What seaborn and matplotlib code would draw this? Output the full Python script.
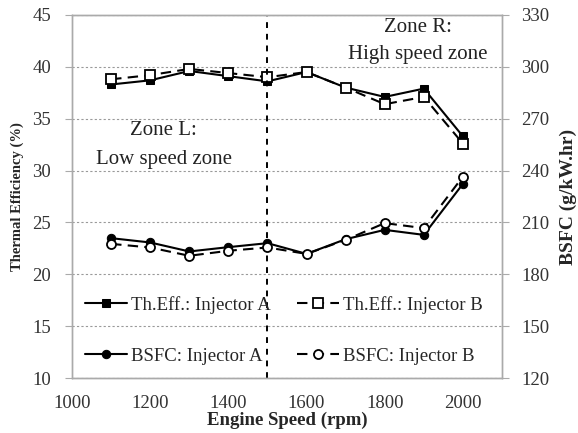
import pandas as pd
import matplotlib.pyplot as plt
import seaborn as sns

# Engine speed (rpm)
speed = [1100, 1200, 1300, 1400, 1500, 1600, 1700, 1800, 1900, 2000]

# Thermal efficiency (%)
th_eff_a = [38.3, 38.7, 39.6, 39.1, 38.6, 39.5, 38.0, 37.1, 37.9, 33.3]
th_eff_b = [38.8, 39.2, 39.8, 39.4, 39.0, 39.5, 38.0, 36.4, 37.1, 32.6]

# BSFC (g/kW.hr)
bsfc_a = [200.9, 198.4, 193.2, 195.7, 198.0, 191.8, 200.3, 205.7, 202.8, 232.3]
bsfc_b = [197.6, 195.5, 190.7, 193.6, 195.5, 191.8, 199.9, 209.6, 206.7, 236.5]

left_ticks = [10, 15, 20, 25, 30, 35, 40, 45]
right_ticks = [120, 150, 180, 210, 240, 270, 300, 330]
x_ticks = [1000, 1200, 1400, 1600, 1800, 2000]

sns.set_style("white")
plt.rcParams['font.family'] = ['Liberation Serif', 'DejaVu Serif']

fig = plt.figure(figsize=(5.78, 4.33), dpi=100)
ax = fig.add_axes([0.1246, 0.127, 0.7439, 0.8384])
ax2 = ax.twinx()

df_a = pd.DataFrame({'speed': speed, 'eff': th_eff_a})
df_b = pd.DataFrame({'speed': speed, 'eff': th_eff_b})
df_c = pd.DataFrame({'speed': speed, 'bsfc': bsfc_a})
df_d = pd.DataFrame({'speed': speed, 'bsfc': bsfc_b})

dash = (0, (5, 3))
sns.lineplot(data=df_a, x='speed', y='eff', ax=ax, color='black', lw=1.5,
             marker='s', markersize=6, markerfacecolor='black',
             markeredgecolor='black', label='Th.Eff.: Injector A', legend=False)
sns.lineplot(data=df_b, x='speed', y='eff', ax=ax, color='black', lw=1.5,
             linestyle=dash, marker='s', markersize=6.5,
             markerfacecolor='white', markeredgecolor='black', markeredgewidth=1.3,
             label='Th.Eff.: Injector B', legend=False)
sns.lineplot(data=df_c, x='speed', y='bsfc', ax=ax2, color='black', lw=1.5,
             marker='o', markersize=6, markerfacecolor='black',
             markeredgecolor='black', label='BSFC: Injector A', legend=False)
sns.lineplot(data=df_d, x='speed', y='bsfc', ax=ax2, color='black', lw=1.5,
             linestyle=dash, marker='o', markersize=6.5,
             markerfacecolor='white', markeredgecolor='black', markeredgewidth=1.3,
             label='BSFC: Injector B', legend=False)

ax.set_xlim(1000, 2100)
ax.set_ylim(10, 45)
ax2.set_ylim(120, 330)
ax.set_xticks(x_ticks)
ax.set_yticks(left_ticks)
ax2.set_yticks(right_ticks)

ax.grid(axis='y', color='#999999', linestyle=(0, (2, 2)), lw=0.8)
ax.set_axisbelow(True)

# zone divider
ax.axvline(1500, color='black', linestyle=(0, (3, 3)), lw=1.4)

for a in (ax, ax2):
    for s in a.spines.values():
        s.set_color('#aaaaaa')
        s.set_linewidth(1.0)
    a.tick_params(direction='out', length=5, width=0.8, color='#aaaaaa',
                  labelsize=13.5, labelcolor='#333333')
ax.tick_params(axis='x', pad=7)
ax.tick_params(axis='y', pad=10)
ax2.tick_params(axis='y', pad=9)

ax.set_xlabel('Engine Speed (rpm)', fontsize=13.5, fontweight='bold', labelpad=0)
ax.set_ylabel('Thermal Efficiency (%)', fontsize=10.5, fontweight='bold', labelpad=6)
ax2.set_ylabel('BSFC (g/kW.hr)', fontsize=14, fontweight='bold', labelpad=7)

txt = dict(fontsize=15, ha='center', va='center', color='#222222')
ax.text(1235, 33.9, 'Zone L:', **txt)
ax.text(1235, 31.1, 'Low speed zone', **txt)
ax.text(1885, 43.75, 'Zone R:', **txt)
ax.text(1885, 41.15, 'High speed zone', **txt)

h1, l1 = ax.get_legend_handles_labels()
h2, l2 = ax2.get_legend_handles_labels()
handles = [h1[0], h2[0], h1[1], h2[1]]
labels = [l1[0], l2[0], l1[1], l2[1]]
ax2.legend(handles, labels, ncol=2, loc='lower left',
           bbox_to_anchor=(0.0, 0.0), frameon=False,
           fontsize=13.5, handlelength=2.25, handletextpad=0.2, columnspacing=1.4,
           labelspacing=1.82, borderaxespad=0.3)

plt.savefig('out.png', dpi=100)
